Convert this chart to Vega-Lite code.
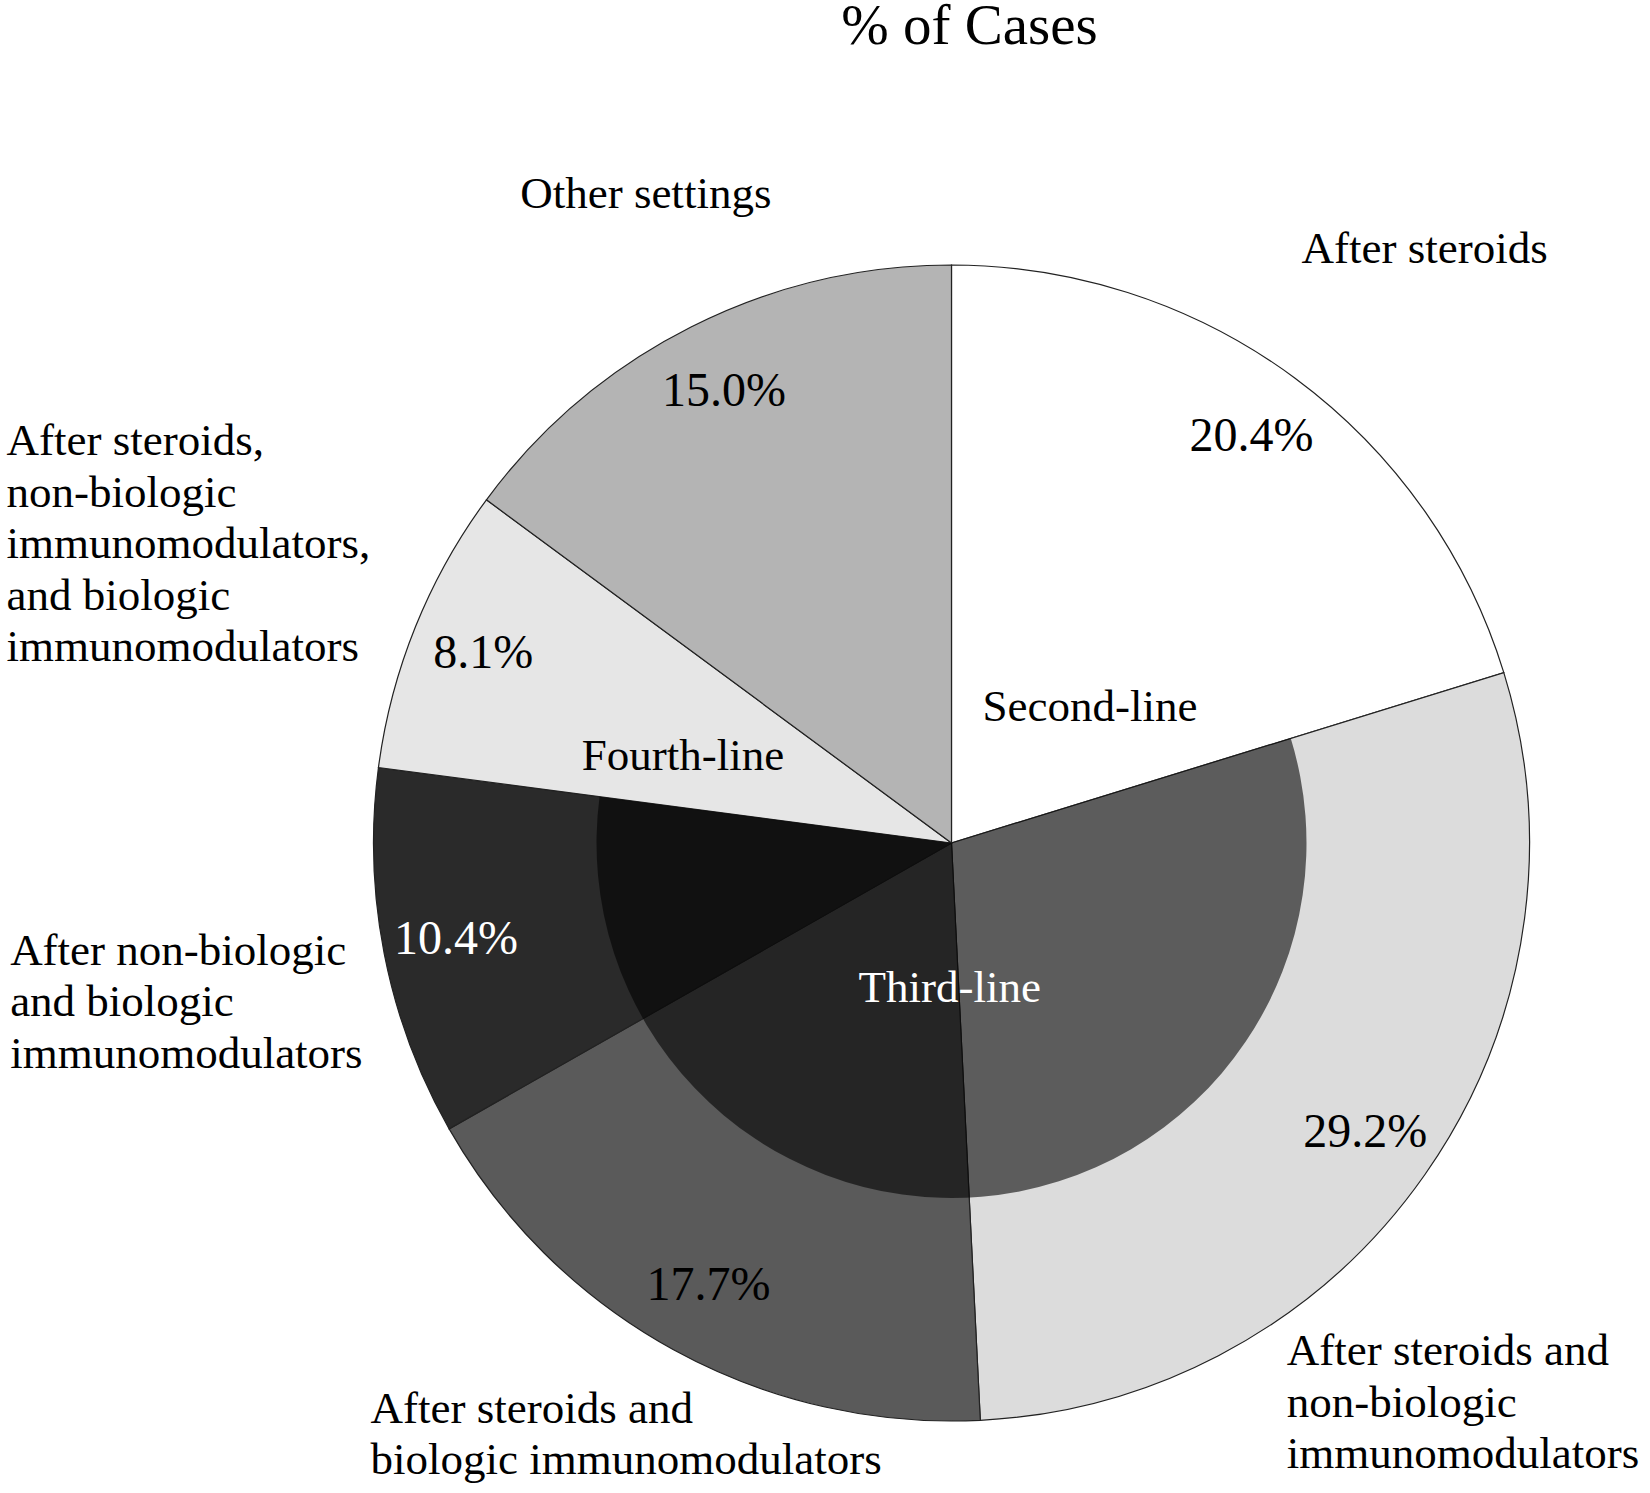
{
  "$schema": "https://vega.github.io/schema/vega-lite/v6.json",
  "autosize": "none",
  "width": 1397,
  "height": 1300,
  "padding": {"left": 253, "top": 193, "right": 0, "bottom": 0},
  "background": "white",
  "config": {"view": {"stroke": null}, "font": "Liberation Serif"},
  "title": {
    "text": "% of Cases",
    "font": "Liberation Serif",
    "fontSize": 57,
    "fontWeight": "normal",
    "color": "#000000",
    "anchor": "middle",
    "frame": "group",
    "baseline": "alphabetic",
    "offset": 134,
    "dx": 18,
    "dy": 345
  },
  "datasets": {
    "slices": [
      {"category": "After steroids", "label": "After steroids", "share": 0.204, "line": "Second-line", "rank": 1},
      {"category": "After steroids and non-biologic immunomodulators", "label": "After steroids and\nnon-biologic\nimmunomodulators", "share": 0.292, "line": "Third-line", "rank": 2},
      {"category": "After steroids and biologic immunomodulators", "label": "After steroids and\nbiologic immunomodulators", "share": 0.177, "line": "Third-line", "rank": 3},
      {"category": "After non-biologic and biologic immunomodulators", "label": "After non-biologic\nand biologic\nimmunomodulators", "share": 0.104, "line": "Third-line", "rank": 4},
      {"category": "After steroids, non-biologic immunomodulators, and biologic immunomodulators", "label": "After steroids,\nnon-biologic\nimmunomodulators,\nand biologic\nimmunomodulators", "share": 0.081, "line": "Fourth-line", "rank": 5},
      {"category": "Other settings", "label": "Other settings", "share": 0.150, "line": "Other", "rank": 6}
    ]
  },
  "data": {"name": "slices"},
  "encoding": {
    "theta": {"field": "share", "type": "quantitative", "stack": true},
    "order": {"field": "rank", "type": "quantitative"}
  },
  "layer": [
    {
      "mark": {"type": "arc", "radius": 578, "stroke": "#222222", "strokeWidth": 1.2},
      "encoding": {
        "fill": {
          "field": "category",
          "type": "nominal",
          "legend": null,
          "scale": {
            "domain": [
              "After steroids",
              "After steroids and non-biologic immunomodulators",
              "After steroids and biologic immunomodulators",
              "After non-biologic and biologic immunomodulators",
              "After steroids, non-biologic immunomodulators, and biologic immunomodulators",
              "Other settings"
            ],
            "range": ["#ffffff", "#dcdcdc", "#5a5a5a", "#2a2a2a", "#e6e6e6", "#b4b4b4"]
          }
        }
      }
    },
    {
      "transform": [
        {"aggregate": [{"op": "sum", "field": "share", "as": "share"}, {"op": "min", "field": "rank", "as": "rank"}], "groupby": ["line"]}
      ],
      "mark": {"type": "arc", "radius": 355, "fill": "#000000", "strokeWidth": 0},
      "encoding": {
        "fillOpacity": {"condition": {"test": "datum.line === 'Third-line'", "value": 0.58}, "value": 0}
      }
    },
    {
      "mark": {"type": "text", "radius": 505, "fontSize": 48, "font": "Liberation Serif", "align": "center", "baseline": "middle"},
      "encoding": {
        "text": {"field": "share", "type": "quantitative", "format": ".1%"},
        "color": {"condition": {"test": "datum.category === 'After non-biologic and biologic immunomodulators'", "value": "#ffffff"}, "value": "#000000"}
      }
    },
    {
      "mark": {"type": "text", "radius": 748, "align": "center", "baseline": "alphabetic", "dx": 29, "dy": 22, "fontSize": 45, "font": "Liberation Serif", "lineBreak": "\n", "lineHeight": 51.5, "color": "#000000"},
      "encoding": {"text": {"condition": {"test": "datum.category === 'After steroids'", "field": "label", "type": "nominal"}, "value": ""}}
    },
    {
      "mark": {"type": "text", "radius": 574, "align": "left", "baseline": "alphabetic", "dx": -135, "dy": 193, "fontSize": 45, "font": "Liberation Serif", "lineBreak": "\n", "lineHeight": 51.5, "color": "#000000"},
      "encoding": {"text": {"condition": {"test": "datum.category === 'After steroids and non-biologic immunomodulators'", "field": "label", "type": "nominal"}, "value": ""}}
    },
    {
      "mark": {"type": "text", "radius": 788, "align": "left", "baseline": "alphabetic", "dx": -202, "dy": -111, "fontSize": 45, "font": "Liberation Serif", "lineBreak": "\n", "lineHeight": 51.5, "color": "#000000"},
      "encoding": {"text": {"condition": {"test": "datum.category === 'After steroids and biologic immunomodulators'", "field": "label", "type": "nominal"}, "value": ""}}
    },
    {
      "mark": {"type": "text", "radius": 947, "align": "left", "baseline": "alphabetic", "dx": -12, "dy": -60, "fontSize": 45, "font": "Liberation Serif", "lineBreak": "\n", "lineHeight": 51.5, "color": "#000000"},
      "encoding": {"text": {"condition": {"test": "datum.category === 'After non-biologic and biologic immunomodulators'", "field": "label", "type": "nominal"}, "value": ""}}
    },
    {
      "mark": {"type": "text", "radius": 1021, "align": "left", "baseline": "alphabetic", "dx": 2, "dy": -6, "fontSize": 45, "font": "Liberation Serif", "lineBreak": "\n", "lineHeight": 51.5, "color": "#000000"},
      "encoding": {"text": {"condition": {"test": "datum.category === 'After steroids, non-biologic immunomodulators, and biologic immunomodulators'", "field": "label", "type": "nominal"}, "value": ""}}
    },
    {
      "mark": {"type": "text", "radius": 705, "align": "center", "baseline": "alphabetic", "dx": 12, "dy": -6, "fontSize": 45, "font": "Liberation Serif", "lineBreak": "\n", "lineHeight": 51.5, "color": "#000000"},
      "encoding": {"text": {"condition": {"test": "datum.category === 'Other settings'", "field": "label", "type": "nominal"}, "value": ""}}
    },
    {
      "transform": [
        {"aggregate": [{"op": "sum", "field": "share", "as": "share"}, {"op": "min", "field": "rank", "as": "rank"}], "groupby": ["line"]}
      ],
      "mark": {"type": "text", "radius": 191, "align": "center", "baseline": "middle", "dx": 25, "dy": 18, "fontSize": 45, "font": "Liberation Serif", "color": "#000000"},
      "encoding": {"text": {"condition": {"test": "datum.line === 'Second-line'", "field": "line", "type": "nominal"}, "value": ""}}
    },
    {
      "transform": [
        {"aggregate": [{"op": "sum", "field": "share", "as": "share"}, {"op": "min", "field": "rank", "as": "rank"}], "groupby": ["line"]}
      ],
      "mark": {"type": "text", "radius": 145, "align": "center", "baseline": "middle", "dx": -14, "dy": 1, "fontSize": 45, "font": "Liberation Serif", "color": "#ffffff"},
      "encoding": {"text": {"condition": {"test": "datum.line === 'Third-line'", "field": "line", "type": "nominal"}, "value": ""}}
    },
    {
      "transform": [
        {"aggregate": [{"op": "sum", "field": "share", "as": "share"}, {"op": "min", "field": "rank", "as": "rank"}], "groupby": ["line"]}
      ],
      "mark": {"type": "text", "radius": 282, "align": "center", "baseline": "middle", "dx": -7, "dy": 18, "fontSize": 45, "font": "Liberation Serif", "color": "#000000"},
      "encoding": {"text": {"condition": {"test": "datum.line === 'Fourth-line'", "field": "line", "type": "nominal"}, "value": ""}}
    }
  ]
}
